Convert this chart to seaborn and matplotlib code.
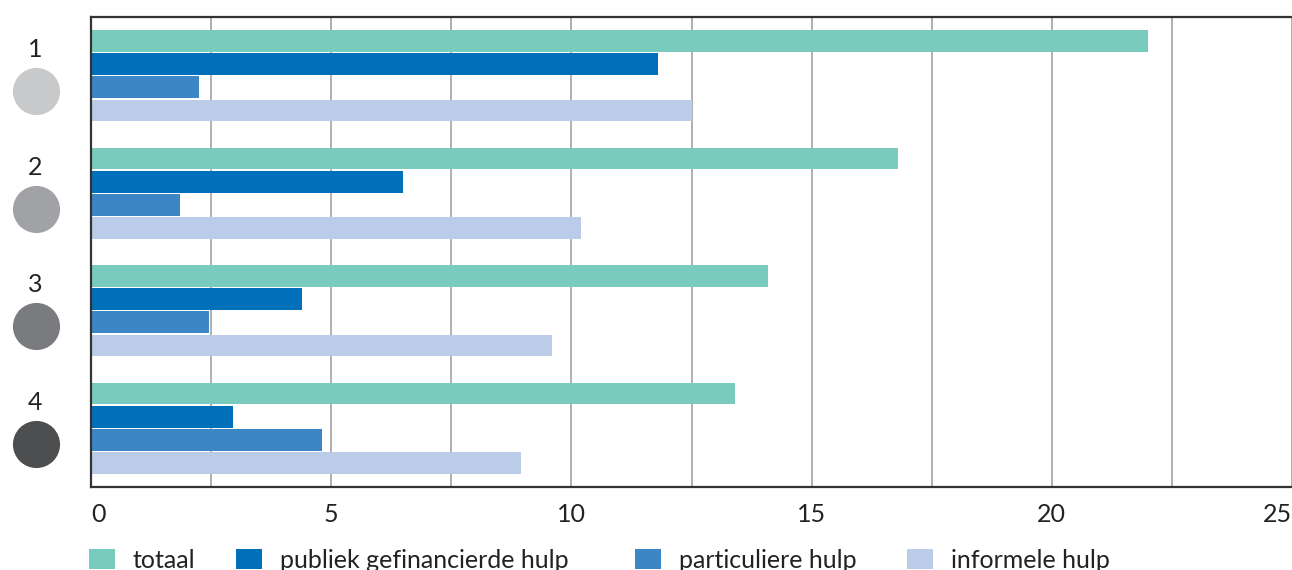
import seaborn as sns
import pandas as pd
from matplotlib import pyplot as plt
from matplotlib.patches import Patch
from matplotlib import transforms

groups = ['1', '2', '3', '4']
series = ['totaal', 'publiek gefinancierde hulp', 'particuliere hulp', 'informele hulp']
totaal = [22.0, 16.8, 14.1, 13.4]
publiek = [11.8, 6.5, 4.4, 2.95]
particulier = [2.25, 1.85, 2.45, 4.8]
informeel = [12.5, 10.2, 9.6, 8.95]

colors = ['#79cbbd', '#0070ba', '#3d86c6', '#bacce8']
circle_colors = ['#c8c9cb', '#a1a2a6', '#7a7b7f', '#4d4e50']

x_ticks = [0, 5, 10, 15, 20, 25]

rows = []
for name, values in zip(series, [totaal, publiek, particulier, informeel]):
    for g, v in zip(groups, values):
        rows.append({'group': g, 'series': name, 'value': v})
df = pd.DataFrame(rows)

sns.set_style('white')
plt.rcParams['font.family'] = ['Lato', 'DejaVu Sans']
text_color = '#222222'
fs = 18

fig = plt.figure(figsize=(12.92, 5.70), dpi=100)
ax = fig.add_axes([91 / 1292, 1 - 487 / 570, 1 - 91 / 1292, (487 - 17) / 570])

sns.barplot(data=df, x='value', y='group', hue='series', hue_order=series, order=groups,
            orient='h', palette=colors, saturation=1, width=0.79, gap=0.06,
            legend=False, ax=ax, zorder=2, linewidth=0)

ax.set_xlim(0, 25)
ax.set_ylim(3.5, -0.5)
ax.set_xticks([i * 2.5 for i in range(11)])
ax.grid(axis='x', color='#a9a9ad', linewidth=1.3, zorder=0)
ax.set_axisbelow(True)
ax.tick_params(axis='both', length=0)
ax.set_xticklabels([])
xtrans = transforms.blended_transform_factory(ax.transData, ax.transAxes)
for t in x_ticks:
    ha = 'center'
    if t == 0:
        ha = 'left'
    elif t == 25:
        ha = 'right'
    ax.text(t, -0.033, str(t), transform=xtrans, ha=ha, va='top', fontsize=fs, color=text_color)

ax.set_yticks([])
ax.set_xlabel('')
ax.set_ylabel('')

for side in ['left', 'top', 'bottom']:
    ax.spines[side].set_color('#333333')
    ax.spines[side].set_linewidth(1.6)
    ax.spines[side].set_zorder(5)
ax.spines['right'].set_visible(False)

# group markers: number + grey circle
trans = transforms.blended_transform_factory(ax.transAxes, ax.transData)
for i, (g, c) in enumerate(zip(groups, circle_colors)):
    ax.text(-0.0465, i - 0.22, g, transform=trans, ha='center', va='center',
            fontsize=fs, color=text_color, clip_on=False)
    ax.scatter([-0.0458], [i + 0.13], s=1150, color=c, transform=trans,
               clip_on=False, linewidths=0)

legend_x = [89, 236, 635, 907]
for name, c, lx in zip(series, colors, legend_x):
    fig.legend(handles=[Patch(facecolor=c, edgecolor='none', label=name)],
               loc='center left', bbox_to_anchor=(lx / 1292, 10 / 570),
               frameon=False, fontsize=fs, handlelength=1.05, handleheight=0.9,
               handletextpad=0.7, borderpad=0, borderaxespad=0,
               labelcolor=text_color)

plt.savefig('out.png', dpi=100)
